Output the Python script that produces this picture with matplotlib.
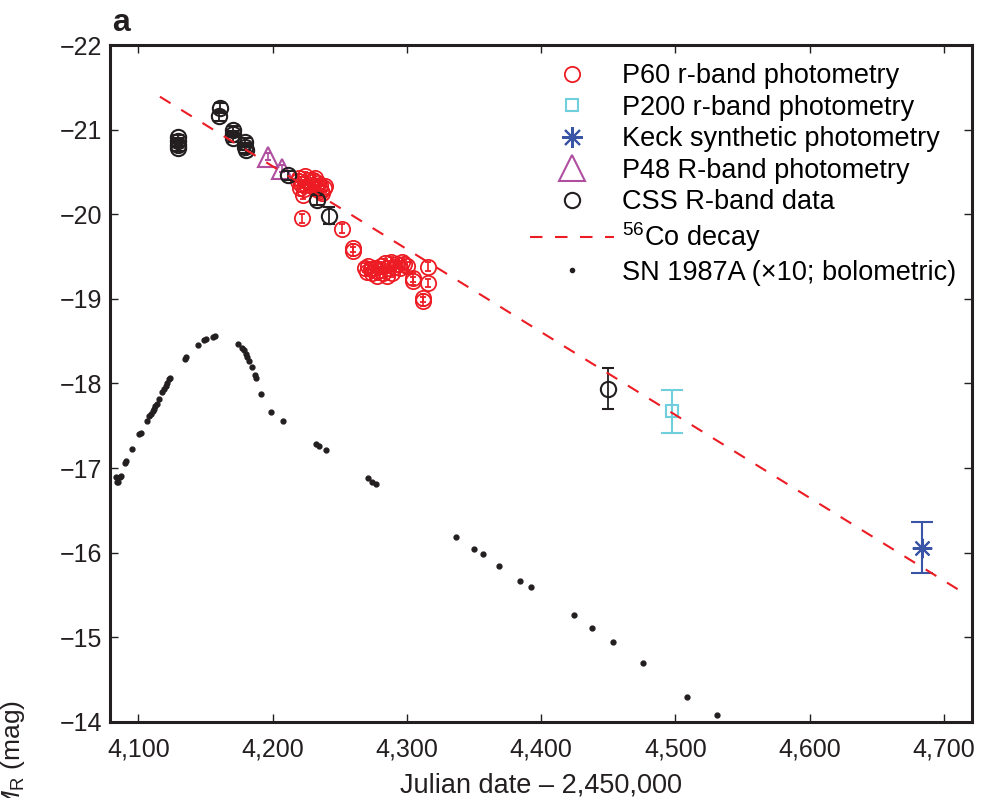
import matplotlib.pyplot as plt
from matplotlib.lines import Line2D

plt.rcParams['font.family'] = ['Liberation Sans', 'DejaVu Sans']
plt.rcParams['mathtext.fontset'] = 'custom'
plt.rcParams['mathtext.rm'] = 'Liberation Sans'
plt.rcParams['mathtext.it'] = 'Liberation Sans:italic'

# P60 r-band photometry (red circles)
p60_x = [4218.8, 4219.5, 4220.3, 4221.0, 4222.5, 4223.5, 4224.0, 4226.0, 4227.7, 4229.0,
         4230.0, 4231.5, 4232.5, 4234.0, 4235.2, 4236.0, 4236.7, 4238.0, 4239.0,
         4221.6, 4251.8, 4259.7, 4259.9,
         4268.7, 4270.0, 4271.0, 4273.0, 4274.0, 4276.2, 4277.5, 4278.4, 4280.7, 4282.0,
         4283.6, 4285.0, 4285.8, 4288.0, 4289.0, 4290.2, 4292.5, 4294.7, 4296.0, 4297.7,
         4299.9, 4304.4, 4304.6, 4311.8, 4312.0, 4315.6, 4315.8]
p60_y = [-20.39, -20.43, -20.31, -20.36, -20.23, -20.30, -20.45, -20.40, -20.35, -20.33,
         -20.41, -20.43, -20.30, -20.37, -20.35, -20.28, -20.25, -20.31, -20.33,
         -19.95, -19.83, -19.60, -19.56,
         -19.37, -19.32, -19.39, -19.35, -19.30, -19.37, -19.27, -19.33, -19.39, -19.30,
         -19.42, -19.27, -19.36, -19.44, -19.31, -19.38, -19.41, -19.37, -19.43, -19.41,
         -19.39, -19.25, -19.21, -19.01, -18.97, -19.38, -19.19]
p60_err = [0.05] * len(p60_x)

# P200 r-band photometry
p200_x = [4497.4]
p200_y = [-17.67]
p200_err = [0.25]

# Keck synthetic photometry
keck_x = [4683.4]
keck_y = [-16.06]
keck_err = [0.30]

# P48 R-band photometry
p48_x = [4196.5, 4207.2]
p48_y = [-20.68, -20.54]
p48_err = [0.04, 0.04]

# CSS R-band data
css_x = [4129.5, 4129.5, 4129.5, 4129.8, 4160.5, 4159.8, 4170.5, 4170.5, 4170.2,
         4179.7, 4179.7, 4180.0, 4211.6, 4233.2, 4242.1, 4449.5]
css_y = [-20.91, -20.87, -20.82, -20.78, -21.26, -21.16, -21.00, -20.95, -20.90,
         -20.86, -20.80, -20.76, -20.46, -20.17, -19.98, -17.94]
css_err = [0.03, 0.03, 0.03, 0.03, 0.06, 0.06, 0.04, 0.04, 0.04,
           0.04, 0.04, 0.04, 0.05, 0.06, 0.10, 0.24]

# 56Co decay line end points
co_x = [4116, 4713]
co_y = [-21.39, -15.54]

# SN 1987A (x10; bolometric)
sn_x = [4083.0, 4083.7, 4084.9, 4086.2, 4087.4, 4089.9, 4090.6, 4095.3, 4100.5, 4101.6,
        4106.5, 4108.0, 4109.2, 4110.5, 4111.5, 4112.2, 4113.5, 4115.2, 4117.6, 4118.9,
        4120.2, 4121.4, 4122.8, 4123.9, 4134.5, 4135.8, 4144.4, 4148.9, 4150.7, 4155.6,
        4156.8, 4174.5, 4177.2, 4178.6, 4179.9, 4181.2, 4182.4, 4184.4, 4186.6, 4187.9,
        4191.6, 4198.5, 4207.7, 4232.5, 4234.4, 4240.0, 4270.9, 4273.9, 4276.7,
        4336.7, 4349.6, 4356.8, 4368.9, 4384.5, 4392.7, 4424.5, 4437.6, 4453.7, 4475.5,
        4508.6, 4531.3]
sn_y = [-16.89, -16.83, -16.84, -16.89, -16.90, -17.06, -17.08, -17.23, -17.40, -17.42,
        -17.56, -17.61, -17.64, -17.67, -17.70, -17.73, -17.76, -17.82, -17.90, -17.93,
        -17.97, -18.01, -18.05, -18.06, -18.29, -18.31, -18.46, -18.51, -18.52, -18.55,
        -18.56, -18.47, -18.42, -18.39, -18.35, -18.31, -18.27, -18.20, -18.10, -18.07,
        -17.88, -17.66, -17.56, -17.28, -17.26, -17.21, -16.88, -16.84, -16.81,
        -16.18, -16.04, -15.98, -15.84, -15.67, -15.59, -15.26, -15.11, -14.94, -14.70,
        -14.29, -14.08]

red = '#ed1c24'
cyan = '#6fcfdc'
blue = '#3a55a5'
purple = '#b04fa0'
black = '#231f20'

fig = plt.figure(figsize=(9.84, 7.98), dpi=100)
ax = fig.add_axes([0.112, 0.0955, 0.876, 0.848])

ax.errorbar(p60_x, p60_y, yerr=p60_err, fmt='o', ms=11, mfc='none', mec=red, mew=1.3,
            ecolor=red, elinewidth=1.2, capsize=2, zorder=3)
ax.errorbar(p200_x, p200_y, yerr=p200_err, fmt='s', ms=8, mfc='none', mec=cyan, mew=1.5,
            ecolor=cyan, elinewidth=1.5, capsize=8, capthick=1.5, zorder=3)
ax.errorbar(keck_x, keck_y, yerr=keck_err, ls='none', marker=(8, 2, 0), ms=14,
            mec=blue, mew=1.5, ecolor=blue, elinewidth=1.5, capsize=8, capthick=1.5,
            zorder=3)
ax.errorbar(p48_x, p48_y, yerr=p48_err, fmt='^', ms=15, mfc='none', mec=purple, mew=1.5,
            ecolor=purple, elinewidth=1.2, capsize=2, zorder=3)
ax.errorbar(css_x, css_y, yerr=css_err, fmt='o', ms=11, mfc='none', mec=black, mew=1.5,
            ecolor=black, elinewidth=1.3, capsize=4, capthick=1.3, zorder=4)
co_line, = ax.plot(co_x, co_y, color=red, lw=1.5, zorder=5)
co_line.set_dashes([6, 6])
ax.plot(sn_x, sn_y, 'o', ms=3.5, color=black, zorder=5)

ax.set_xlim(4079, 4721)
ax.set_ylim(-14, -22)
ax.set_xticks([4100, 4200, 4300, 4400, 4500, 4600, 4700])
ax.set_xticklabels(['4,100', '4,200', '4,300', '4,400', '4,500', '4,600', '4,700'])
ax.set_yticks([-22, -21, -20, -19, -18, -17, -16, -15, -14])
ax.tick_params(direction='in', top=True, right=True, length=5.5, width=1.0,
               labelsize=18, colors='#231f20')
ax.tick_params(axis='x', pad=11)
ax.tick_params(axis='y', pad=6)
for s in ax.spines.values():
    s.set_linewidth(2.2)
    s.set_color('#231f20')

ax.set_xlabel('Julian date \u2013 2,450,000', fontsize=19.5, labelpad=8, color='#231f20')

handles = [
    Line2D([], [], ls='none', marker='o', ms=11, mfc='none', mec=red, mew=1.3),
    Line2D([], [], ls='none', marker='s', ms=8, mfc='none', mec=cyan, mew=1.5),
    Line2D([], [], ls='none', marker=(8, 2, 0), ms=15, mec=blue, mew=1.5),
    Line2D([], [], ls='none', marker='^', ms=19, mfc='none', mec=purple, mew=1.5),
    Line2D([], [], ls='none', marker='o', ms=11, mfc='none', mec=black, mew=1.5),
    Line2D([], [], color=red, lw=1.5, dashes=[6, 6]),
    Line2D([], [], ls='none', marker='o', ms=3, color=black),
]
labels = ['P60 r-band photometry', 'P200 r-band photometry', 'Keck synthetic photometry',
          'P48 R-band photometry', 'CSS R-band data', '$^{56}$Co decay',
          'SN 1987A (\u00d710; bolometric)']
ax.legend(handles, labels, loc='upper right', frameon=False, fontsize=19.5,
          handlelength=3.1, handletextpad=0.3, labelspacing=0.2,
          borderaxespad=0.2, bbox_to_anchor=(1.0, 0.997))

fig.text(0.114, 1 - 31 / 798, 'a', fontsize=23, fontweight='bold', color='#231f20')
fig.text(0.013, 1 - 700 / 798, 'Absolute magnitude $M_{\\mathrm{R}}$ (mag)',
         rotation=90, va='top', ha='center', fontsize=19, color='#231f20')

fig.savefig('out.png', dpi=100)
